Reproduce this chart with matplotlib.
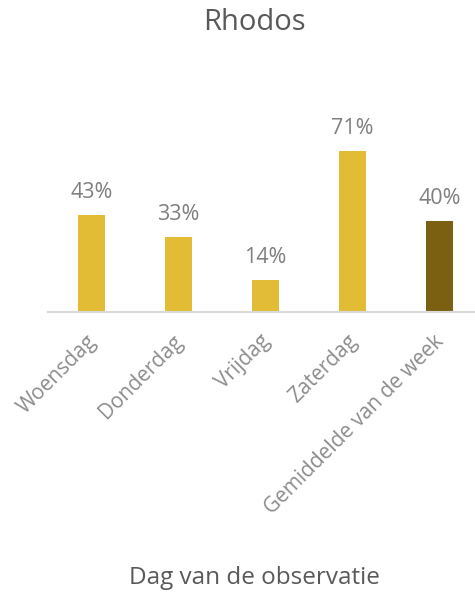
import numpy as np
import matplotlib.pyplot as plt
import matplotlib.transforms as mtransforms

# data
days = ['Woensdag', 'Donderdag', 'Vrijdag', 'Zaterdag', 'Gemiddelde van de week']
values = [43, 33, 14, 71, 40]
labels = ['43%', '33%', '14%', '71%', '40%']
colors = ['#E2BC35', '#E2BC35', '#E2BC35', '#E2BC35', '#7A6010']

plt.rcParams['font.family'] = ['Open Sans', 'DejaVu Sans']

fig = plt.figure(figsize=(4.75, 5.92), dpi=100)
W, H = 475, 592
# axes box in pixels: left 48, right 483, baseline 312, top for 80%
left, right, base = 48, 483, 312
px_per = 160.7 / 71
top = base - 80 * px_per
ax = fig.add_axes([left / W, 1 - base / H, (right - left) / W, (base - top) / H])

x = np.arange(len(days))
ax.bar(x, values, width=0.31, color=colors)
ax.set_xlim(-0.5, len(days) - 0.5)
ax.set_ylim(0, 80)

for xi, v, lab in zip(x, values, labels):
    ax.annotate(lab, (xi, v), xytext=(0, 12), textcoords='offset pixels',
                ha='center', va='bottom', fontsize=15.5, color='#7F7F7F')

for s in ['top', 'right', 'left']:
    ax.spines[s].set_visible(False)
ax.spines['bottom'].set_color('#D9D9D9')
ax.spines['bottom'].set_linewidth(1.5)
ax.set_yticks([])
ax.set_xticks(x)
ax.set_xticklabels(days, rotation=45, ha='right', rotation_mode='anchor',
                   fontsize=15, color='#8C8C8C')
ax.tick_params(axis='x', length=0, pad=13)
shift = mtransforms.ScaledTranslation(-6 / 100, -1 / 100, fig.dpi_scale_trans)
for t in ax.get_xticklabels():
    t.set_transform(t.get_transform() + shift)

fig.text(254 / W, 1 - 22 / H, 'Rhodos', ha='center', va='center',
         fontsize=21, color='#595959')
fig.text(254 / W, 1 - 578 / H, 'Dag van de observatie', ha='center', va='center',
         fontsize=17.5, color='#595959')

fig.savefig('out.png', dpi=100)
